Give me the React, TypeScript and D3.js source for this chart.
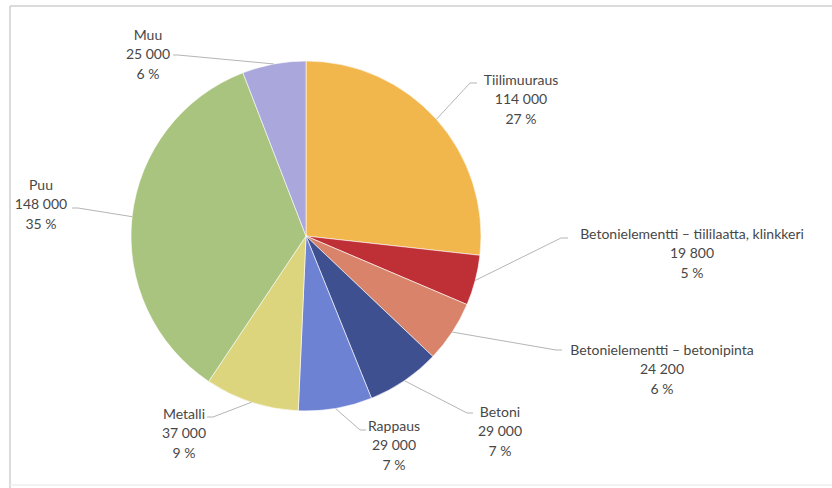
import React from "react";
import * as d3 from "d3";

const categories = [
  "Tiilimuuraus",
  "Betonielementti – tiililaatta, klinkkeri",
  "Betonielementti – betonipinta",
  "Betoni",
  "Rappaus",
  "Metalli",
  "Puu",
  "Muu",
];
const values = [114000, 19800, 24200, 29000, 29000, 37000, 148000, 25000];
const valueLabels = ["114 000", "19 800", "24 200", "29 000", "29 000", "37 000", "148 000", "25 000"];
const percentLabels = ["27 %", "5 %", "6 %", "7 %", "7 %", "9 %", "35 %", "6 %"];
const colors = ["#F1B64C", "#BE2F36", "#D9846A", "#3F5090", "#6E82D4", "#DDD47E", "#A9C47E", "#A9A7DC"];

// label layout: text center x, first-row center y, leader elbow (ex, ey) and tick end x
const labelLayout = [
  { x: 521, y: 79, ex: 470, ey: 83, tx: 477 },
  { x: 692, y: 233, ex: 561, ey: 238, tx: 568 },
  { x: 662, y: 349, ex: 556, ey: 350, tx: 562 },
  { x: 500, y: 411, ex: 467, ey: 413, tx: 473 },
  { x: 394, y: 425, ex: 360, ey: 430, tx: 366 },
  { x: 184, y: 413, ex: 213, ey: 417, tx: 207 },
  { x: 41, y: 184, ex: 78, ey: 208, tx: 72 },
  { x: 148, y: 34, ex: 178, ey: 55, tx: 173 },
];

const W = 832;
const H = 488;
const cx = 306;
const cy = 236;
const R = 175;
const lineGap = 19.5;

export default function App() {
  const pie = d3.pie<number>().sort(null).value((d) => d)(values);
  const arc = d3.arc<d3.PieArcDatum<number>>().innerRadius(0).outerRadius(R);
  const edge = d3.arc<d3.PieArcDatum<number>>().innerRadius(R).outerRadius(R);

  return (
    <svg
      width={W}
      height={H}
      style={{ position: "absolute", left: 0, top: 0, background: "#fff" }}
      fontFamily="Lato, 'Open Sans', sans-serif"
    >
      <rect x={0} y={0} width={W} height={H} fill="#fff" />
      <line x1={10} y1={6} x2={W} y2={6} stroke="#cfcfcf" strokeWidth={1.5} />
      <line x1={10} y1={6} x2={10} y2={H} stroke="#cfcfcf" strokeWidth={1.5} />
      <line x1={10} y1={485} x2={W} y2={485} stroke="#eeeeee" strokeWidth={1.5} />
      <g transform={`translate(${cx},${cy})`}>
        {pie.map((d, i) => (
          <path key={i} d={arc(d) || ""} fill={colors[i]} stroke="#ffffff" strokeWidth={0.6} />
        ))}
      </g>
      {pie.map((d, i) => {
        const [px, py] = edge.centroid(d);
        const L = labelLayout[i];
        return (
          <polyline
            key={"l" + i}
            points={`${cx + px},${cy + py} ${L.ex},${L.ey} ${L.tx},${L.ey}`}
            fill="none"
            stroke="#b5b5b5"
            strokeWidth={1}
          />
        );
      })}
      {categories.map((c, i) => {
        const L = labelLayout[i];
        return (
          <g key={"t" + i} fill="#474747" fontSize={14} textAnchor="middle">
            <text x={L.x} y={L.y} dominantBaseline="central">{c}</text>
            <text x={L.x} y={L.y + lineGap} dominantBaseline="central">{valueLabels[i]}</text>
            <text x={L.x} y={L.y + 2 * lineGap} dominantBaseline="central">{percentLabels[i]}</text>
          </g>
        );
      })}
    </svg>
  );
}
